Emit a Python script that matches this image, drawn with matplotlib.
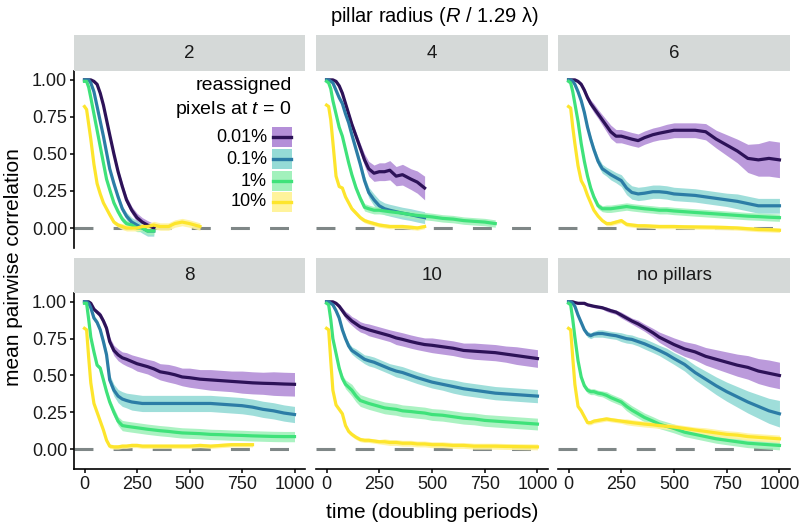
import numpy as np
import matplotlib
matplotlib.use("Agg")
from matplotlib import pyplot as plt
from matplotlib.patches import Rectangle
from matplotlib.lines import Line2D

plt.rcParams['font.family'] = ['Liberation Sans', 'DejaVu Sans']
plt.rcParams['mathtext.fontset'] = 'custom'
plt.rcParams['mathtext.rm'] = 'Liberation Sans'
plt.rcParams['mathtext.it'] = 'Liberation Sans:italic'

# time grid (doubling periods); a shorter series list means the run stopped earlier
time = [0, 10, 20, 30, 45, 60, 75, 90, 105, 120, 140, 160, 180, 200, 225, 250, 275,
        300, 330, 360, 400, 430, 465, 500, 550, 600, 650, 700, 750, 800, 850, 900,
        950, 1000]

facets = ["2", "4", "6", "8", "10", "no pillars"]
levels = ["0.01%", "0.1%", "1%", "10%"]
x_ticks = [0, 250, 500, 750, 1000]
y_ticks = [0.0, 0.25, 0.5, 0.75, 1.0]

# mean pairwise correlation, order: 0.01%, 0.1%, 1%, 10%
mean_r2 = [
    [1.0, 1.0, 1.0, 1.0, 0.99, 0.97, 0.91, 0.83, 0.73, 0.63, 0.50, 0.38, 0.28, 0.19, 0.12, 0.07, 0.04, 0.02, 0.0],
    [1.0, 1.0, 1.0, 0.98, 0.92, 0.82, 0.72, 0.62, 0.51, 0.40, 0.30, 0.21, 0.13, 0.08, 0.04, 0.02, 0.0, -0.02, -0.02],
    [0.99, 0.99, 0.95, 0.88, 0.77, 0.66, 0.55, 0.44, 0.33, 0.26, 0.17, 0.11, 0.06, 0.03, 0.02, 0.0, 0.0, -0.02, -0.02],
    [0.82, 0.80, 0.70, 0.60, 0.43, 0.30, 0.23, 0.17, 0.13, 0.09, 0.04, 0.02, 0.01, 0.0, 0.0, 0.0, 0.01, 0.01, 0.02,
     0.01, 0.01, 0.03, 0.04, 0.03, 0.01],
]
mean_r4 = [
    [1.0, 1.0, 1.0, 1.0, 0.99, 0.96, 0.91, 0.84, 0.77, 0.70, 0.62, 0.54, 0.46, 0.40, 0.37, 0.38, 0.38, 0.39, 0.35,
     0.36, 0.33, 0.31, 0.27],
    [1.0, 1.0, 0.99, 0.98, 0.93, 0.88, 0.84, 0.77, 0.71, 0.63, 0.53, 0.43, 0.32, 0.24, 0.19, 0.15, 0.13, 0.12, 0.11,
     0.10, 0.09, 0.08, 0.07],
    [0.99, 0.98, 0.94, 0.86, 0.77, 0.68, 0.62, 0.53, 0.44, 0.36, 0.27, 0.20, 0.14, 0.13, 0.12, 0.12, 0.115, 0.11,
     0.105, 0.10, 0.09, 0.085, 0.08, 0.075, 0.065, 0.06, 0.05, 0.045, 0.04, 0.03],
    [0.83, 0.82, 0.73, 0.58, 0.35, 0.28, 0.27, 0.21, 0.17, 0.13, 0.10, 0.07, 0.05, 0.04, 0.03, 0.02, 0.015, 0.01,
     0.01, 0.01, 0.005, 0.0, 0.01],
]
mean_r6 = [
    [1.0, 1.0, 1.0, 1.0, 0.99, 0.97, 0.93, 0.88, 0.84, 0.81, 0.77, 0.73, 0.69, 0.65, 0.62, 0.62, 0.61, 0.60, 0.59,
     0.61, 0.63, 0.64, 0.65, 0.66, 0.66, 0.66, 0.65, 0.60, 0.56, 0.52, 0.47, 0.46, 0.47, 0.46],
    [1.0, 1.0, 0.99, 0.97, 0.92, 0.86, 0.78, 0.68, 0.60, 0.53, 0.45, 0.40, 0.38, 0.36, 0.34, 0.32, 0.27, 0.24, 0.23,
     0.235, 0.245, 0.245, 0.24, 0.23, 0.225, 0.22, 0.21, 0.20, 0.19, 0.18, 0.165, 0.15, 0.15, 0.15],
    [0.99, 0.98, 0.92, 0.84, 0.72, 0.57, 0.45, 0.35, 0.27, 0.21, 0.15, 0.13, 0.13, 0.13, 0.135, 0.14, 0.145, 0.14,
     0.135, 0.13, 0.125, 0.12, 0.12, 0.115, 0.11, 0.105, 0.10, 0.095, 0.09, 0.085, 0.08, 0.077, 0.073, 0.07],
    [0.82, 0.81, 0.68, 0.57, 0.42, 0.32, 0.28, 0.22, 0.17, 0.12, 0.08, 0.05, 0.03, 0.03, 0.04, 0.05, 0.025, 0.02,
     0.015, 0.015, 0.012, 0.01, 0.01, 0.01, 0.008, 0.007, 0.006, 0.005, 0.003, 0.0, -0.005, -0.01, -0.012, -0.015],
]
mean_r8 = [
    [1.0, 1.0, 1.0, 0.99, 0.95, 0.93, 0.91, 0.87, 0.82, 0.73, 0.67, 0.64, 0.62, 0.61, 0.595, 0.58, 0.57, 0.56,
     0.545, 0.525, 0.515, 0.505, 0.49, 0.485, 0.475, 0.47, 0.465, 0.46, 0.455, 0.45, 0.447, 0.445, 0.442, 0.44],
    [1.0, 1.0, 0.99, 0.96, 0.89, 0.86, 0.81, 0.73, 0.64, 0.47, 0.40, 0.36, 0.34, 0.33, 0.32, 0.315, 0.31, 0.31,
     0.31, 0.31, 0.31, 0.31, 0.31, 0.31, 0.31, 0.31, 0.305, 0.30, 0.295, 0.285, 0.27, 0.26, 0.245, 0.235],
    [0.99, 0.99, 0.88, 0.76, 0.66, 0.57, 0.55, 0.47, 0.39, 0.32, 0.25, 0.19, 0.16, 0.155, 0.15, 0.145, 0.14, 0.135,
     0.13, 0.125, 0.12, 0.115, 0.11, 0.108, 0.105, 0.10, 0.098, 0.095, 0.093, 0.09, 0.088, 0.086, 0.085, 0.085],
    [0.82, 0.81, 0.62, 0.45, 0.31, 0.25, 0.19, 0.13, 0.06, 0.02, 0.015, 0.015, 0.02, 0.02, 0.025, 0.025, 0.02, 0.02,
     0.02, 0.02, 0.02, 0.02, 0.02, 0.02, 0.025, 0.02, 0.025, 0.03, 0.03, 0.03],
]
mean_r10 = [
    [1.0, 1.0, 1.0, 1.0, 0.99, 0.97, 0.94, 0.91, 0.89, 0.87, 0.85, 0.83, 0.82, 0.81, 0.80, 0.79, 0.78, 0.77, 0.755,
     0.745, 0.73, 0.72, 0.71, 0.705, 0.695, 0.685, 0.67, 0.665, 0.66, 0.655, 0.645, 0.635, 0.625, 0.615],
    [1.0, 1.0, 0.99, 0.98, 0.94, 0.89, 0.81, 0.75, 0.70, 0.67, 0.65, 0.63, 0.61, 0.60, 0.59, 0.575, 0.56, 0.545,
     0.53, 0.52, 0.50, 0.485, 0.47, 0.455, 0.44, 0.425, 0.41, 0.40, 0.39, 0.38, 0.375, 0.37, 0.365, 0.36],
    [0.99, 0.98, 0.88, 0.75, 0.65, 0.55, 0.48, 0.44, 0.42, 0.40, 0.36, 0.33, 0.32, 0.31, 0.30, 0.29, 0.28, 0.275,
     0.27, 0.26, 0.255, 0.25, 0.245, 0.235, 0.23, 0.22, 0.21, 0.205, 0.195, 0.19, 0.185, 0.18, 0.175, 0.17],
    [0.82, 0.81, 0.60, 0.40, 0.30, 0.27, 0.24, 0.16, 0.12, 0.10, 0.08, 0.065, 0.06, 0.06, 0.055, 0.05, 0.05, 0.045,
     0.045, 0.04, 0.04, 0.035, 0.035, 0.03, 0.03, 0.025, 0.025, 0.02, 0.02, 0.02, 0.018, 0.017, 0.016, 0.015],
]
mean_none = [
    [1.0, 1.0, 1.0, 0.995, 0.99, 0.99, 0.99, 0.98, 0.975, 0.97, 0.965, 0.96, 0.95, 0.94, 0.93, 0.91, 0.89, 0.87,
     0.85, 0.825, 0.79, 0.76, 0.735, 0.71, 0.68, 0.66, 0.63, 0.61, 0.59, 0.57, 0.555, 0.53, 0.515, 0.50],
    [1.0, 1.0, 0.99, 0.97, 0.91, 0.86, 0.81, 0.78, 0.77, 0.78, 0.785, 0.785, 0.78, 0.775, 0.77, 0.76, 0.75, 0.745,
     0.73, 0.715, 0.69, 0.67, 0.645, 0.615, 0.575, 0.52, 0.475, 0.43, 0.39, 0.355, 0.32, 0.29, 0.26, 0.24],
    [0.99, 0.98, 0.88, 0.76, 0.60, 0.49, 0.43, 0.40, 0.39, 0.39, 0.38, 0.375, 0.365, 0.35, 0.335, 0.32, 0.29,
     0.265, 0.24, 0.215, 0.19, 0.17, 0.155, 0.14, 0.115, 0.10, 0.085, 0.07, 0.06, 0.05, 0.04, 0.035, 0.03, 0.025],
    [0.82, 0.81, 0.62, 0.44, 0.29, 0.26, 0.22, 0.18, 0.18, 0.19, 0.195, 0.20, 0.205, 0.20, 0.195, 0.19, 0.185,
     0.18, 0.175, 0.17, 0.165, 0.16, 0.155, 0.15, 0.14, 0.13, 0.12, 0.11, 0.10, 0.095, 0.085, 0.08, 0.075, 0.07],
]

# half width of the ribbon around each mean
band_r2 = [
    [0.0, 0.0, 0.0, 0.005, 0.01, 0.01, 0.01, 0.01, 0.015, 0.015, 0.02, 0.02, 0.025, 0.025, 0.025, 0.03, 0.03, 0.03, 0.03],
    [0.0, 0.0, 0.005, 0.01, 0.01, 0.01, 0.01, 0.01, 0.015, 0.015, 0.02, 0.02, 0.02, 0.025, 0.03, 0.03, 0.035, 0.035, 0.035],
    [0.005, 0.005, 0.01, 0.01, 0.01, 0.01, 0.01, 0.01, 0.015, 0.015, 0.015, 0.02, 0.02, 0.02, 0.025, 0.025, 0.025, 0.025, 0.025],
    [0.01, 0.01, 0.01, 0.01, 0.01, 0.01, 0.01, 0.01, 0.01, 0.015, 0.015, 0.015, 0.02, 0.02, 0.02, 0.02, 0.02, 0.02,
     0.025, 0.025, 0.025, 0.025, 0.025, 0.025, 0.025],
]
band_r4 = [
    [0.0, 0.0, 0.0, 0.005, 0.01, 0.01, 0.015, 0.015, 0.02, 0.02, 0.025, 0.03, 0.04, 0.05, 0.055, 0.06, 0.06, 0.065,
     0.065, 0.07, 0.07, 0.075, 0.08],
    [0.0, 0.0, 0.005, 0.01, 0.01, 0.01, 0.01, 0.015, 0.015, 0.02, 0.02, 0.025, 0.03, 0.035, 0.04, 0.04, 0.04, 0.04,
     0.04, 0.04, 0.04, 0.04, 0.04],
    [0.005, 0.005, 0.01, 0.01, 0.01, 0.01, 0.01, 0.015, 0.015, 0.015, 0.02, 0.02, 0.025, 0.025, 0.025, 0.025, 0.025,
     0.025, 0.025, 0.025, 0.025, 0.025, 0.025, 0.025, 0.025, 0.025, 0.025, 0.025, 0.025, 0.025],
    [0.01, 0.01, 0.01, 0.01, 0.01, 0.01, 0.01, 0.01, 0.01, 0.015, 0.015, 0.015, 0.015, 0.015, 0.015, 0.015, 0.015,
     0.015, 0.015, 0.015, 0.015, 0.015, 0.015],
]
band_r6 = [
    [0.0, 0.0, 0.005, 0.01, 0.01, 0.015, 0.02, 0.02, 0.025, 0.03, 0.03, 0.035, 0.04, 0.045, 0.045, 0.045, 0.045,
     0.045, 0.045, 0.045, 0.045, 0.045, 0.05, 0.05, 0.05, 0.05, 0.055, 0.06, 0.07, 0.08, 0.095, 0.11, 0.12, 0.12],
    [0.0, 0.0, 0.005, 0.01, 0.01, 0.015, 0.02, 0.02, 0.025, 0.025, 0.03, 0.03, 0.03, 0.035, 0.035, 0.04, 0.045,
     0.045, 0.045, 0.045, 0.045, 0.045, 0.045, 0.045, 0.045, 0.045, 0.045, 0.045, 0.045, 0.05, 0.05, 0.05, 0.05, 0.05],
    [0.005, 0.005, 0.01, 0.01, 0.01, 0.01, 0.015, 0.015, 0.015, 0.02, 0.02, 0.02, 0.025, 0.025, 0.025, 0.025, 0.025,
     0.025, 0.025, 0.025, 0.025, 0.025, 0.025, 0.025, 0.025, 0.025, 0.025, 0.025, 0.025, 0.025, 0.025, 0.025, 0.025, 0.025],
    [0.01, 0.01, 0.01, 0.01, 0.01, 0.01, 0.01, 0.01, 0.01, 0.01, 0.01, 0.01, 0.015, 0.015, 0.015, 0.015, 0.015,
     0.015, 0.015, 0.015, 0.015, 0.015, 0.015, 0.015, 0.015, 0.015, 0.015, 0.015, 0.015, 0.015, 0.015, 0.015, 0.015, 0.015],
]
band_r8 = [
    [0.0, 0.0, 0.005, 0.01, 0.01, 0.015, 0.02, 0.02, 0.025, 0.03, 0.035, 0.04, 0.04, 0.045, 0.045, 0.05, 0.05, 0.05,
     0.055, 0.055, 0.06, 0.06, 0.06, 0.065, 0.065, 0.07, 0.07, 0.07, 0.075, 0.075, 0.075, 0.08, 0.08, 0.08],
    [0.0, 0.0, 0.005, 0.01, 0.015, 0.02, 0.02, 0.025, 0.03, 0.035, 0.04, 0.045, 0.05, 0.05, 0.055, 0.055, 0.055,
     0.055, 0.055, 0.055, 0.055, 0.055, 0.055, 0.055, 0.055, 0.055, 0.055, 0.055, 0.055, 0.055, 0.055, 0.055, 0.055, 0.055],
    [0.005, 0.005, 0.01, 0.01, 0.01, 0.015, 0.015, 0.02, 0.02, 0.025, 0.03, 0.03, 0.035, 0.035, 0.035, 0.035, 0.035,
     0.035, 0.035, 0.035, 0.035, 0.035, 0.035, 0.035, 0.035, 0.035, 0.035, 0.035, 0.035, 0.035, 0.035, 0.035, 0.035, 0.035],
    [0.01, 0.01, 0.01, 0.01, 0.01, 0.01, 0.01, 0.01, 0.015, 0.015, 0.015, 0.015, 0.015, 0.015, 0.015, 0.015, 0.015,
     0.015, 0.015, 0.015, 0.015, 0.015, 0.015, 0.015, 0.015, 0.015, 0.015, 0.015, 0.015, 0.015],
]
band_r10 = [
    [0.0, 0.0, 0.005, 0.01, 0.01, 0.015, 0.02, 0.025, 0.03, 0.03, 0.035, 0.035, 0.035, 0.04, 0.04, 0.04, 0.04,
     0.04, 0.045, 0.045, 0.045, 0.045, 0.045, 0.05, 0.05, 0.05, 0.05, 0.055, 0.055, 0.055, 0.055, 0.06, 0.06, 0.06],
    [0.0, 0.0, 0.005, 0.01, 0.01, 0.015, 0.02, 0.02, 0.025, 0.025, 0.03, 0.03, 0.03, 0.035, 0.035, 0.035, 0.035,
     0.035, 0.04, 0.04, 0.04, 0.04, 0.04, 0.04, 0.04, 0.045, 0.045, 0.045, 0.045, 0.045, 0.045, 0.045, 0.045, 0.045],
    [0.005, 0.005, 0.01, 0.015, 0.02, 0.02, 0.025, 0.03, 0.035, 0.04, 0.04, 0.04, 0.04, 0.04, 0.04, 0.04, 0.04,
     0.04, 0.04, 0.04, 0.04, 0.04, 0.04, 0.04, 0.04, 0.04, 0.04, 0.04, 0.04, 0.04, 0.04, 0.04, 0.04, 0.04],
    [0.01, 0.01, 0.01, 0.01, 0.01, 0.01, 0.01, 0.015, 0.015, 0.015, 0.015, 0.015, 0.015, 0.015, 0.015, 0.015, 0.02,
     0.02, 0.02, 0.02, 0.02, 0.02, 0.02, 0.02, 0.02, 0.02, 0.02, 0.02, 0.02, 0.02, 0.02, 0.02, 0.02, 0.02],
]
band_none = [
    [0.0, 0.0, 0.0, 0.005, 0.005, 0.005, 0.01, 0.01, 0.01, 0.01, 0.01, 0.01, 0.015, 0.015, 0.015, 0.02, 0.02, 0.02,
     0.025, 0.025, 0.03, 0.035, 0.04, 0.045, 0.05, 0.055, 0.06, 0.065, 0.07, 0.075, 0.08, 0.085, 0.09, 0.09],
    [0.0, 0.0, 0.005, 0.01, 0.01, 0.015, 0.015, 0.02, 0.02, 0.02, 0.025, 0.025, 0.025, 0.025, 0.025, 0.03, 0.03,
     0.03, 0.03, 0.035, 0.035, 0.035, 0.04, 0.04, 0.045, 0.05, 0.055, 0.06, 0.065, 0.07, 0.075, 0.08, 0.085, 0.09],
    [0.005, 0.005, 0.01, 0.01, 0.015, 0.015, 0.02, 0.02, 0.02, 0.02, 0.02, 0.02, 0.025, 0.025, 0.025, 0.025, 0.03,
     0.03, 0.03, 0.03, 0.03, 0.03, 0.03, 0.03, 0.03, 0.03, 0.03, 0.03, 0.03, 0.03, 0.03, 0.03, 0.03, 0.03],
    [0.01, 0.01, 0.01, 0.01, 0.01, 0.01, 0.01, 0.015, 0.015, 0.015, 0.015, 0.015, 0.015, 0.015, 0.015, 0.015, 0.02,
     0.02, 0.02, 0.02, 0.02, 0.02, 0.02, 0.02, 0.02, 0.02, 0.025, 0.025, 0.025, 0.025, 0.025, 0.025, 0.025, 0.025],
]

means = [mean_r2, mean_r4, mean_r6, mean_r8, mean_r10, mean_none]
bands = [band_r2, band_r4, band_r6, band_r8, band_r10, band_none]

line_colors = ['#2d1258', '#2c7da6', '#3fe27a', '#fde52c']
fill_colors = ['#b48fd8', '#95dbd6', '#a2f1bc', '#fff39c']

W, H = 802, 527
fig = plt.figure(figsize=(W / 100, H / 100), dpi=100)


def box(x0, y0, x1, y1):
    # pixel box (top-left origin) -> figure fraction rect
    return [x0 / W, 1 - y1 / H, (x1 - x0) / W, (y1 - y0) / H]


col_x = [(74, 305), (316, 548), (558, 790)]
row_y = [(71, 248), (293, 469)]
strip_y = [(35, 71), (258, 293)]

for k, facet in enumerate(facets):
    r, c = divmod(k, 3)
    x0, x1 = col_x[c]
    ax = fig.add_axes(box(x0, row_y[r][0], x1, row_y[r][1]))
    sax = fig.add_axes(box(x0, strip_y[r][0], x1, strip_y[r][1]))
    sax.set_facecolor('#d5d9d8')
    sax.set_xticks([]); sax.set_yticks([])
    for s in sax.spines.values():
        s.set_visible(False)
    sax.text(0.5, 0.5, facet, ha='center', va='center', fontsize=13.5, color='#1a1a1a',
             transform=sax.transAxes)

    ax.axhline(0, color='#7f8787', lw=2.2, ls=(0, (6.2, 6.6)), zorder=1)
    for j in range(4):
        m = np.array(means[k][j]); b = np.array(bands[k][j])
        assert len(m) == len(b), (facet, j)
        t = np.array(time[:len(m)])
        ax.fill_between(t, m - b, m + b, color=fill_colors[j], alpha=0.9, lw=0, zorder=2)
    for j in range(4):
        m = np.array(means[k][j])
        t = np.array(time[:len(m)])
        ax.plot(t, m, color=line_colors[j], lw=2.3, zorder=3, solid_joinstyle='round')

    ax.set_xlim(-50, 1050)
    ax.set_ylim(-0.135, 1.06)
    ax.set_xticks(x_ticks)
    ax.set_yticks(y_ticks)
    ax.set_yticklabels(['%.2f' % v for v in y_ticks])
    ax.spines['top'].set_visible(False)
    ax.spines['right'].set_visible(False)
    ax.spines['left'].set_visible(c == 0)
    ax.spines['bottom'].set_visible(r == 1)
    for s in ('left', 'bottom'):
        ax.spines[s].set_linewidth(1.2)
        ax.spines[s].set_color('black')
    ax.tick_params(axis='both', length=3, width=1.1, color='black', labelsize=13,
                   labelcolor='#1a1a1a', pad=2)
    ax.tick_params(axis='x', bottom=(r == 1), labelbottom=(r == 1))
    ax.tick_params(axis='y', left=(c == 0), labelleft=(c == 0))
    ax.patch.set_alpha(0)

# legend inside the first panel
fig.text(292 / W, 1 - 85 / H, 'reassigned', ha='right', va='center', fontsize=14)
fig.text(292 / W, 1 - 110 / H, r'pixels at $t$ = 0', ha='right', va='center', fontsize=14)
key_y = [137, 159, 181, 202]
for j, lab in enumerate(levels):
    yc = key_y[j]
    fig.text(267 / W, 1 - yc / H, lab, ha='right', va='center', fontsize=13)
    fig.patches.append(Rectangle((272 / W, 1 - (yc + 10) / H), 20 / W, 20 / H,
                                 transform=fig.transFigure, color=fill_colors[j], lw=0))
    fig.lines.append(Line2D([273 / W, 291 / W], [1 - yc / H, 1 - yc / H],
                            transform=fig.transFigure, color=line_colors[j], lw=2.4))

fig.text(434 / W, 1 - 17 / H, r'pillar radius ($R$ / 1.29 λ)', ha='center', va='center', fontsize=14.5)
fig.text(432 / W, 1 - 512 / H, 'time (doubling periods)', ha='center', va='center', fontsize=15)
fig.text(14 / W, 1 - 267 / H, 'mean pairwise correlation', ha='center', va='center',
         rotation=90, fontsize=15)

fig.savefig('out.png', dpi=100)
